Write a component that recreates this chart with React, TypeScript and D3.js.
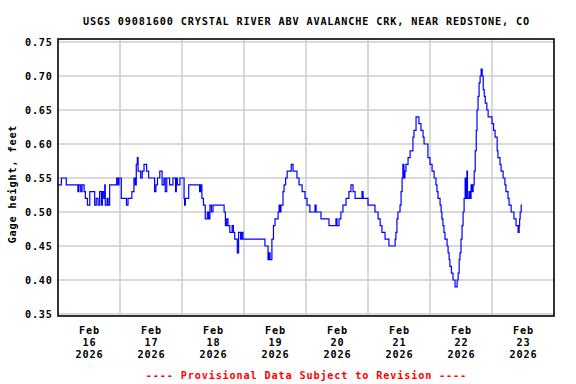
import React from "react";
import * as d3 from "d3";

const title = "USGS 09081600 CRYSTAL RIVER ABV AVALANCHE CRK, NEAR REDSTONE, CO";
const yLabel = "Gage height, feet";
const footer = "---- Provisional Data Subject to Revision ----";
const yTicks = [0.35, 0.4, 0.45, 0.5, 0.55, 0.6, 0.65, 0.7, 0.75];
const dayLabels = ["16", "17", "18", "19", "20", "21", "22", "23"];
const monthLabel = "Feb";
const yearLabel = "2026";

// hours since Feb 16 2026 00:00 (step change points) and gage height (ft)
const hours = [
  0, 1.3, 3.2, 7.7, 8.1, 8.8, 9.3, 10.1, 10.6, 11.4, 12.3, 14.2, 14.8, 15.5, 16.1, 16.8, 17.2, 17.7, 18.1, 18.3, 19, 19.4, 20, 22.7, 23.2, 23.6,
  24.5, 26.5, 27.1, 27.7, 28.6, 29.4, 29.9, 30.3, 30.7, 31, 32, 32.6, 33.3, 34.3, 35.1, 37.4, 37.9, 38.5, 39.4, 40.3, 41, 41.5, 42.1, 43.2, 44.5, 45.5, 45.8, 46.2, 47.2,
  48.8, 49, 49.3, 50.6, 54.8, 55.2, 55.7, 56.3, 57, 57.8, 58.3, 58.8, 59.4, 60, 64.3, 64.8, 65.3, 65.8, 66.5, 67.4, 67.9, 68.4, 69.4, 69.9, 70.7, 71.1, 71.6,
  80.1, 81.3, 81.7, 82.1, 82.8, 83.4, 84, 85.2, 85.6, 85.9, 86.3, 87.1, 87.5, 88.1, 88.7, 90.3, 91, 92.5, 93.3, 94.5, 95.6,
  96.4, 97.5, 99.5, 99.9, 101.8, 104.9, 107.6, 108, 108.8, 109.5, 110.3, 111.5, 112.6, 113.4, 114.2, 115, 117.7, 118.1,
  120, 122.7, 123.9, 124.7, 125.4, 126.6, 128.1, 130.5, 130.8, 131.2, 131.6, 132.4, 132.8, 133.2, 133.5, 133.9, 134.3, 134.7, 135.5, 136.3, 137.4, 137.8, 138.6, 139.7, 140.5, 141.3, 141.7, 143.2,
  144, 144.8, 145.6, 146.3, 146.7, 147.1, 147.9, 148.3, 148.6, 149, 149.4, 149.8, 150.6, 151, 151.4, 151.7, 152.3, 152.9, 153.7, 154.5, 154.9, 155.3, 155.6, 156, 156.4, 156.8, 157.2, 157.6, 158, 158.3, 158.5, 159.1, 159.5, 159.9, 160.3, 160.7, 161.1, 161.5, 161.9, 162.2, 162.6, 163, 163.4, 163.8, 164.2, 164.6, 165, 165.4, 166, 166.5,
  168, 168.6, 169.2, 170, 170.3, 171.1, 171.5, 172.3, 173, 173.4, 174.2, 174.6, 175.4, 176.5, 177.3, 178.1, 178.5, 178.7, 178.9, 179.3, 179.6,
];
const gage = [
  0.54, 0.55, 0.54, 0.53, 0.54, 0.53, 0.54, 0.53, 0.52, 0.51, 0.53, 0.51, 0.52, 0.51, 0.53, 0.51, 0.53, 0.52, 0.54, 0.51, 0.52, 0.51, 0.54, 0.55, 0.54, 0.55,
  0.52, 0.51, 0.52, 0.52, 0.53, 0.55, 0.54, 0.57, 0.58, 0.56, 0.55, 0.56, 0.57, 0.56, 0.55, 0.53, 0.54, 0.55, 0.56, 0.54, 0.55, 0.53, 0.55, 0.54, 0.55, 0.53, 0.55, 0.54, 0.55,
  0.52, 0.51, 0.52, 0.54, 0.53, 0.54, 0.52, 0.51, 0.49, 0.5, 0.49, 0.51, 0.5, 0.51, 0.5, 0.48, 0.49, 0.48, 0.47, 0.48, 0.47, 0.46, 0.44, 0.47, 0.46, 0.47, 0.46,
  0.45, 0.43, 0.44, 0.43, 0.46, 0.48, 0.49, 0.5, 0.51, 0.5, 0.51, 0.53, 0.54, 0.55, 0.56, 0.57, 0.56, 0.55, 0.54, 0.53, 0.52,
  0.51, 0.5, 0.51, 0.5, 0.49, 0.48, 0.49, 0.48, 0.49, 0.5, 0.51, 0.52, 0.53, 0.54, 0.53, 0.52, 0.53, 0.52,
  0.51, 0.5, 0.49, 0.48, 0.47, 0.46, 0.45, 0.46, 0.47, 0.49, 0.5, 0.51, 0.53, 0.55, 0.57, 0.55, 0.56, 0.57, 0.58, 0.59, 0.61, 0.62, 0.64, 0.63, 0.62, 0.61, 0.6, 0.58,
  0.57, 0.56, 0.55, 0.54, 0.53, 0.52, 0.51, 0.5, 0.49, 0.48, 0.47, 0.46, 0.45, 0.44, 0.43, 0.42, 0.41, 0.4, 0.39, 0.4, 0.41, 0.43, 0.44, 0.46, 0.48, 0.5, 0.52, 0.55, 0.52, 0.56, 0.52, 0.53, 0.52, 0.54, 0.53, 0.54, 0.56, 0.59, 0.62, 0.65, 0.67, 0.69, 0.7, 0.71, 0.7, 0.68, 0.67, 0.66, 0.65, 0.64,
  0.63, 0.62, 0.61, 0.59, 0.58, 0.57, 0.56, 0.55, 0.54, 0.53, 0.52, 0.51, 0.5, 0.49, 0.48, 0.47, 0.48, 0.49, 0.5, 0.51, 0.51,
];

const W = 576;
const H = 384;
const L = 58, R = 554, T = 39, B = 316;
const FONT = "'DejaVu Sans Mono', 'Liberation Mono', monospace";
const FS = 10.2;
const LS = 0.85;

export default function App() {
  const start = Date.UTC(2026, 1, 16);
  const hr = 3600 * 1000;
  const x = d3.scaleUtc().domain([new Date(start), new Date(start + 192 * hr)]).range([L, R]);
  const y = d3.scaleLinear().domain([0.35, 0.75]).range([314, 42]);
  const data = hours.map((h, i) => ({ t: new Date(start + h * hr), v: gage[i] }));
  const line = d3.line<{ t: Date; v: number }>().x((d) => x(d.t)).y((d) => y(d.v)).curve(d3.curveStepAfter);
  const dayBounds = d3.range(1, 8).map((i) => new Date(start + i * 24 * hr));
  const mid = (L + R) / 2 + LS / 2;
  const txt = { fontFamily: FONT, fontWeight: "bold" as const, fontSize: FS, letterSpacing: LS };
  return (
    <svg width={W} height={H} style={{ position: "absolute", left: 0, top: 0, background: "#fff" }}>
      <rect x={0} y={0} width={W} height={H} fill="#fff" />
      <text x={mid} y={24.5} textAnchor="middle" {...txt}>{title}</text>
      {yTicks.map((t) => (
        <line key={"h" + t} x1={L} x2={R} y1={y(t)} y2={y(t)} stroke="#cccccc" strokeWidth={1.5} />
      ))}
      {dayBounds.map((d, i) => (
        <line key={"v" + i} x1={x(d)} x2={x(d)} y1={T} y2={B} stroke="#cccccc" strokeWidth={1.5} />
      ))}
      <path d={line(data) || ""} fill="none" stroke="#0000ff" strokeWidth={1.2} />
      <rect x={L} y={T} width={R - L} height={B - T} fill="none" stroke="#000" strokeWidth={1.6} />
      {yTicks.map((t) => (
        <text key={"yl" + t} x={52 + LS} y={y(t) + 4} textAnchor="end" {...txt}>{t.toFixed(2)}</text>
      ))}
      <text transform={`translate(16,184) rotate(-90)`} textAnchor="middle" {...txt}>{yLabel}</text>
      {dayLabels.map((dl, i) => {
        const cx = x(new Date(start + (i * 24 + 12) * hr)) + LS / 2;
        return (
          <g key={"xl" + i}>
            <text x={cx} y={334} textAnchor="middle" {...txt}>{monthLabel}</text>
            <text x={cx} y={346} textAnchor="middle" {...txt}>{dl}</text>
            <text x={cx} y={358} textAnchor="middle" {...txt}>{yearLabel}</text>
          </g>
        );
      })}
      <text x={mid} y={378.5} textAnchor="middle" {...txt} fill="#ff0000">{footer}</text>
    </svg>
  );
}
